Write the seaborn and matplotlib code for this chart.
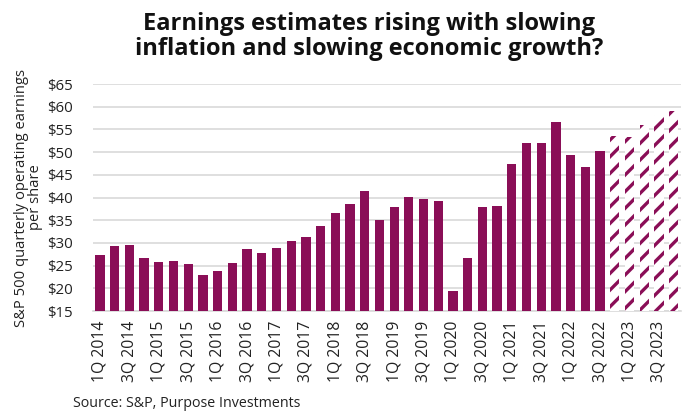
import matplotlib
matplotlib.use("Agg")
import matplotlib.pyplot as plt
import seaborn as sns
import pandas as pd

quarters = [f"{q}Q {y}" for y in range(2014, 2024) for q in range(1, 5)]
earnings = [27.3, 29.3, 29.5, 26.7, 25.8, 26.1, 25.4, 22.9, 23.9, 25.6,
            28.7, 27.8, 28.8, 30.5, 31.3, 33.8, 36.5, 38.6, 41.4, 35.0,
            38.0, 40.1, 39.7, 39.2, 19.5, 26.7, 37.8, 38.1, 47.4, 52.0,
            52.0, 56.7, 49.4, 46.8, 50.3,
            53.5, 53.3, 55.9, 58.1, 59.1]
n_estimates = 5
yticks = [15, 20, 25, 30, 35, 40, 45, 50, 55, 60, 65]

purple = "#8A0E57"
df = pd.DataFrame({"quarter": quarters, "eps": earnings})

sns.set_theme(style="white")
plt.rcParams["font.family"] = ["Open Sans", "DejaVu Sans"]
plt.rcParams["hatch.linewidth"] = 2.4

fig = plt.figure(figsize=(6.83, 4.11), dpi=100)
ax = fig.add_axes([0.1356, 0.2433, 0.8614, 0.5523])

sns.barplot(data=df, x="quarter", y="eps", color=purple, width=0.63,
            saturation=1, ax=ax, zorder=3)
for i, p in enumerate(ax.patches):
    p.set_linewidth(0)
    if i >= len(earnings) - n_estimates:
        p.set_facecolor("white")
        p.set_edgecolor(purple)
        p.set_hatch("//")

ax.set_ylim(15, 65)
ax.set_xlim(-0.5, len(quarters) - 0.5)
ax.set_yticks(yticks)
ax.set_yticklabels([f"${v}" for v in yticks], fontsize=10.8, color="#222222")
ax.set_xticks(range(0, len(quarters), 2))
ax.set_xticklabels(quarters[::2], rotation=90, fontsize=11.3, color="#222222")
ax.tick_params(axis="x", length=0, pad=7)
ax.tick_params(axis="y", length=0, pad=14)
ax.yaxis.grid(True, color="#d9d9d9", linewidth=1.2, zorder=0)
ax.set_axisbelow(True)
for s in ["top", "right", "left"]:
    ax.spines[s].set_visible(False)
ax.spines["bottom"].set_color("#d9d9d9")
ax.spines["bottom"].set_linewidth(1.2)

ax.set_xlabel("")
ax.set_ylabel("S&P 500 quarterly operating earnings\nper share", fontsize=10.6,
              color="#222222", labelpad=3, linespacing=0.92)

fig.text(0.54, 0.972, "Earnings estimates rising with slowing\ninflation and slowing economic growth?",
         ha="center", va="top", fontsize=17, fontweight="bold", color="#111111",
         linespacing=1.1)
fig.text(0.107, 0.0, "Source: S&P, Purpose Investments", fontsize=10.3,
         color="#222222", ha="left", va="bottom")

fig.savefig("out.png", dpi=100)
